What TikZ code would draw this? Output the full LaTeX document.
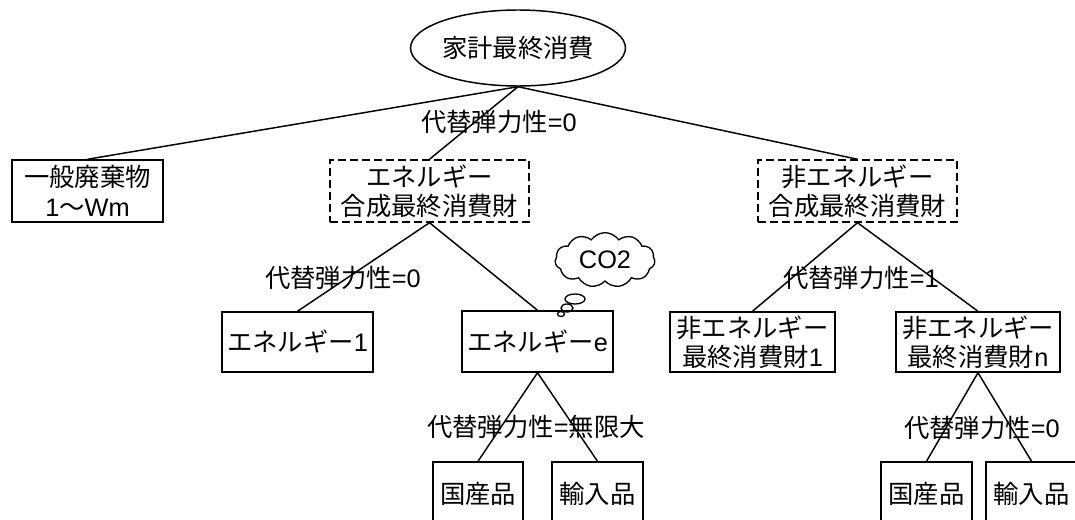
\documentclass[tikz,border=0pt]{standalone}
\usepackage{fontspec}
\setmainfont{Noto Sans CJK JP}
\newfontfamily\lat{Liberation Sans}
\usetikzlibrary{shapes.geometric,shapes.symbols}
\begin{document}
\begin{tikzpicture}[x=0.75pt,y=-0.75pt,
  every node/.style={font=\fontsize{19}{22}\selectfont},
  conn/.style={line width=1.1pt},
  boxn/.style={draw,line width=1.1pt,inner sep=0pt,align=center},
  dboxn/.style={boxn,dash pattern=on 6pt off 3pt},
  lbl/.style={inner sep=0pt},
  bub/.style={draw,ellipse,line width=1pt,inner sep=0pt}]
\useasboundingbox (0,0) rectangle (1075,520);
\clip (0,0) rectangle (1075,520);
\node[draw,ellipse,line width=1.1pt,inner sep=0pt,minimum width=150pt,minimum height=57pt] (root) at (518,48) {家計最終消費};
\node[boxn,minimum width=113.25pt,minimum height=46.5pt] (waste) at (87.5,191) {一般廃棄物\\{\lat 1}～{\lat Wm}};
\node[dboxn,minimum width=149.25pt,minimum height=46.5pt] (ecomp) at (429.5,191) {エネルギー\\合成最終消費財};
\node[dboxn,minimum width=149.25pt,minimum height=46.5pt] (necomp) at (857.5,191) {非エネルギー\\合成最終消費財};
\node[boxn,minimum width=113.25pt,minimum height=45pt] (e1) at (297.5,342) {エネルギー{\lat 1}};
\node[boxn,minimum width=113.25pt,minimum height=45.75pt] (ee) at (537.5,341.5) {エネルギー{\lat e}};
\node[boxn,minimum width=123.75pt,minimum height=45pt] (ne1) at (752.5,342) {非エネルギー\\最終消費財{\lat 1}};
\node[boxn,minimum width=123pt,minimum height=45pt] (nen) at (978,342) {非エネルギー\\最終消費財{\lat n}};
\node[boxn,minimum width=67.5pt,minimum height=48pt] (d1) at (478,494) {国産品};
\node[boxn,minimum width=68.25pt,minimum height=48pt] (m1) at (597.5,494) {輸入品};
\node[boxn,minimum width=68.25pt,minimum height=48pt] (d2) at (926.5,494) {国産品};
\node[boxn,minimum width=68.25pt,minimum height=48pt] (m2) at (1031.5,494) {輸入品};
\draw[conn] (root.south) -- (waste.north);
\draw[conn] (root.south) -- (ecomp.north);
\draw[conn] (root.south) -- (necomp.north);
\draw[conn] (ecomp.south) -- (e1.north);
\draw[conn] (ecomp.south) -- (ee.north);
\draw[conn] (necomp.south) -- (ne1.north);
\draw[conn] (necomp.south) -- (nen.north);
\draw[conn] (ee.south) -- (d1.north);
\draw[conn] (ee.south) -- (m1.north);
\draw[conn] (nen.south) -- (d2.north);
\draw[conn] (nen.south) -- (m2.north);
\node[lbl] (l0) at (499,122) {代替弾力性{\lat =0}};
\node[lbl] (l1) at (343,278) {代替弾力性{\lat =0}};
\node[lbl] (l2) at (861,278) {代替弾力性{\lat =1}};
\node[lbl] (l3) at (536,427) {代替弾力性{\lat =}無限大};
\node[lbl] (l4) at (982,428) {代替弾力性{\lat =0}};
\node[draw,cloud,cloud puffs=11,cloud puff arc=110,aspect=1.9,line width=1pt,inner sep=0pt,minimum width=75pt,minimum height=41pt] (cloud) at (605,260) {\lat CO2};
\node[bub,minimum width=15pt,minimum height=7.5pt] (b1) at (575,299) {};
\node[bub,minimum width=9pt,minimum height=6pt] (b2) at (567,308) {};
\node[bub,minimum width=5.25pt,minimum height=3.75pt] (b3) at (561,314) {};
\end{tikzpicture}
\end{document}
